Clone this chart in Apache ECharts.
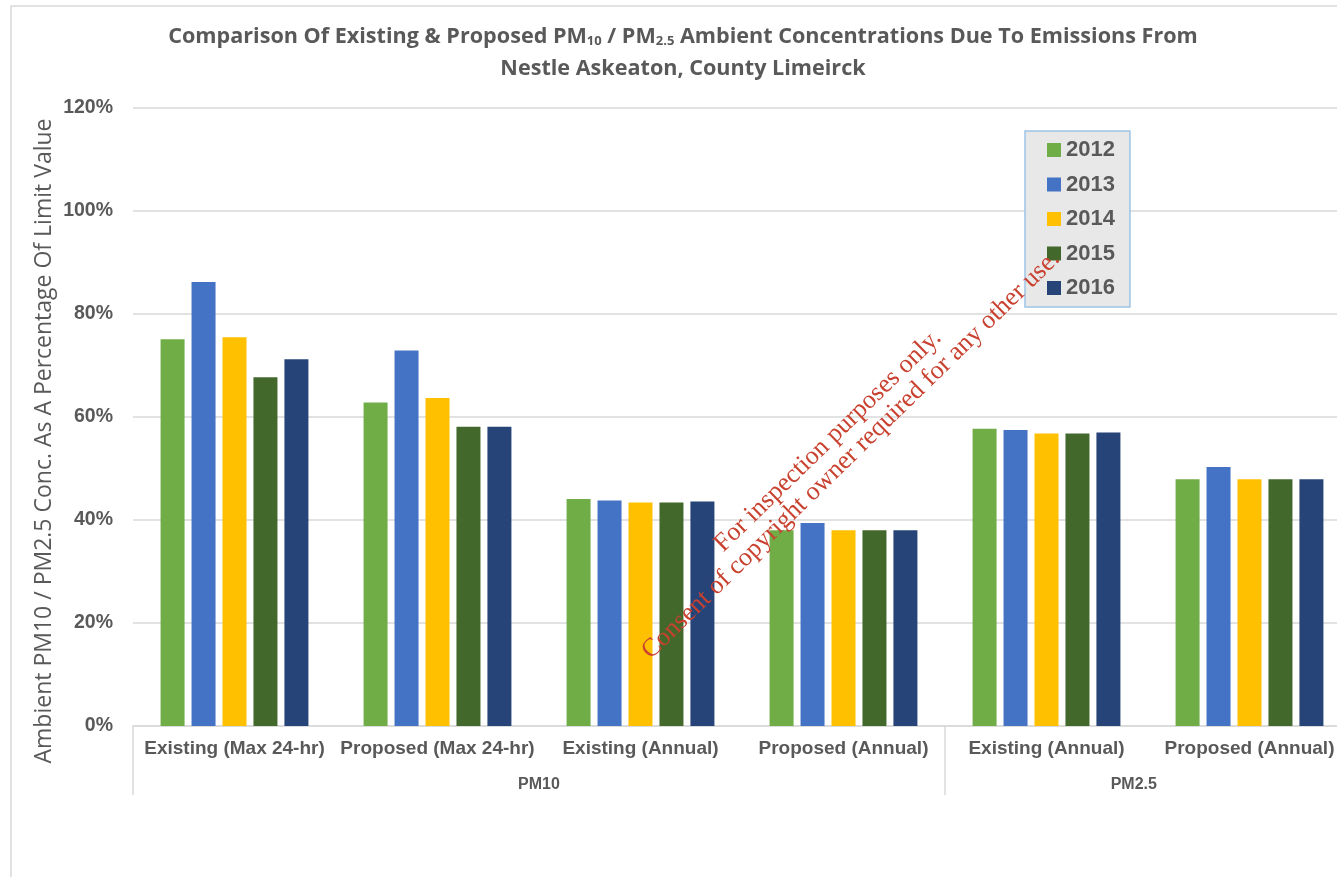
<!DOCTYPE html>
<html>
<head>
<meta charset="utf-8">
<title>PM10 / PM2.5 Ambient Concentrations</title>
<script src="https://cdn.jsdelivr.net/npm/echarts@6/dist/echarts.min.js"></script>
<style>
  html, body { margin: 0; padding: 0; background: #ffffff; width: 1337px; height: 877px; overflow: hidden; }
  /* the plot runs slightly past the right edge of the page, so the canvas is wider than the view */
  #chart { width: 1351px; height: 877px; }
</style>
</head>
<body>
<div id="chart"></div>
<script>
// Scenario categories (inner axis level) and pollutant groups (outer level)
const categories = ['Existing (Max 24-hr)', 'Proposed (Max 24-hr)', 'Existing (Annual)', 'Proposed (Annual)', 'Existing (Annual)', 'Proposed (Annual)'];
const groups = ['PM10', 'PM2.5'];
const groupSpans = [4, 2];            // number of categories in each group
const groupLabelAt = [2.0, 4.93];     // where each group's label sits along the outer level

const years = ['2012', '2013', '2014', '2015', '2016'];

// Ambient concentration as % of limit value
const y2012 = [75.1, 62.8, 44.1, 38.0, 57.7, 47.9];
const y2013 = [86.2, 72.9, 43.8, 39.4, 57.5, 50.3];
const y2014 = [75.5, 63.7, 43.4, 38.0, 56.8, 47.9];
const y2015 = [67.7, 58.1, 43.4, 38.0, 56.8, 47.9];
const y2016 = [71.2, 58.1, 43.6, 38.0, 57.0, 47.9];

const yTicks = [0, 20, 40, 60, 80, 100, 120];

const colors = ['#70AD47', '#4472C4', '#FFC000', '#43682B', '#264478'];
const seriesValues = [y2012, y2013, y2014, y2015, y2016];

const grey = '#595959';
const gridLine = '#d9d9d9';

// Boundaries between groups on the outer level
const groupEdges = [0];
groupSpans.forEach(s => groupEdges.push(groupEdges[groupEdges.length - 1] + s));

const chart = echarts.init(document.getElementById('chart'), null, { renderer: 'canvas' });

const option = {
  backgroundColor: '#ffffff',
  animation: false,
  color: colors,
  title: {
    text: '{t|Comparison Of Existing & Proposed PM}{s|10}{t| / PM}{s|2.5}{t| Ambient Concentrations Due To Emissions From}\n{t|Nestle Askeaton, County Limeirck}',
    left: 683,
    top: 21,
    padding: 0,
    textAlign: 'center',
    textStyle: {
      rich: {
        t: { fontFamily: '"Open Sans", sans-serif', fontWeight: 'bold', fontSize: 21.6, color: grey, lineHeight: 32 },
        s: { fontFamily: '"Open Sans", sans-serif', fontWeight: 'bold', fontSize: 13, color: grey, lineHeight: 32, padding: [9, 0, 0, 0] }
      }
    }
  },
  legend: {
    orient: 'vertical',
    left: 1025,
    top: 131,
    data: years,
    icon: 'rect',
    itemWidth: 14,
    itemHeight: 14,
    itemGap: 12.5,
    padding: [8, 15, 8, 22],
    backgroundColor: '#e8e8e8',
    borderColor: '#9dc3e6',
    borderWidth: 1.5,
    textStyle: { fontFamily: '"Liberation Sans", Arial, sans-serif', fontWeight: 'bold', fontSize: 22, lineHeight: 22, color: grey }
  },
  grid: { left: 133, right: 0, top: 108, bottom: 151, containLabel: false },
  xAxis: [
    {
      type: 'category',
      data: categories,
      axisLine: { show: true, lineStyle: { color: gridLine, width: 1.5 } },
      axisTick: { show: false },
      axisLabel: { interval: 0, margin: 13, fontFamily: '"Liberation Sans", Arial, sans-serif', fontWeight: 'bold', fontSize: 19, color: grey }
    },
    {
      type: 'value',
      position: 'bottom',
      min: 0,
      max: groupEdges[groupEdges.length - 1],
      axisLine: { show: false },
      splitLine: { show: false },
      axisTick: { show: true, customValues: groupEdges, length: 69, lineStyle: { color: gridLine, width: 1.5 } },
      axisLabel: {
        customValues: groupLabelAt,
        margin: 51,
        fontFamily: '"Liberation Sans", Arial, sans-serif',
        fontWeight: 'bold',
        fontSize: 16,
        color: grey,
        formatter: v => {
          for (let i = 0; i < groups.length; i++) {
            if (v >= groupEdges[i] && v < groupEdges[i + 1]) return groups[i];
          }
          return '';
        }
      }
    }
  ],
  yAxis: {
    type: 'value',
    min: yTicks[0],
    max: yTicks[yTicks.length - 1],
    interval: yTicks[1] - yTicks[0],
    axisLine: { show: false },
    axisTick: { show: false },
    splitLine: { lineStyle: { color: gridLine, width: 1.5 } },
    axisLabel: { margin: 20, fontFamily: '"Liberation Sans", Arial, sans-serif', fontWeight: 'bold', fontSize: 19.5, color: grey, formatter: '{value}%' }
  },
  series: years.map((y, i) => ({
    name: y,
    type: 'bar',
    data: seriesValues[i],
    barWidth: 24,
    barGap: '29%',
    itemStyle: { color: colors[i] }
  })),
  graphic: [
    {
      // outer chart border
      type: 'rect',
      silent: true,
      shape: { x: 11, y: 6, width: 1400, height: 900 },
      style: { fill: 'none', stroke: '#d9d9d9', lineWidth: 1.5 }
    },
    {
      // vertical axis title
      type: 'text',
      silent: true,
      x: 44,
      y: 441,
      rotation: Math.PI / 2,
      style: {
        text: 'Ambient PM10 / PM2.5 Conc. As A Percentage Of Limit Value',
        fontFamily: '"Open Sans", sans-serif',
        fontSize: 23,
        fill: grey,
        align: 'center',
        verticalAlign: 'middle'
      }
    },
    {
      type: 'text',
      silent: true,
      z: 100,
      x: 828,
      y: 441,
      rotation: 0.773,
      style: {
        text: 'For inspection purposes only.',
        fontFamily: '"Liberation Serif", "DejaVu Serif", serif',
        fontSize: 26,
        fill: '#c9412f',
        align: 'center',
        verticalAlign: 'middle'
      }
    },
    {
      type: 'text',
      silent: true,
      z: 100,
      x: 851,
      y: 455,
      rotation: 0.773,
      style: {
        text: 'Consent of copyright owner required for any other use.',
        fontFamily: '"Liberation Serif", "DejaVu Serif", serif',
        fontSize: 26,
        fill: '#c9412f',
        align: 'center',
        verticalAlign: 'middle'
      }
    }
  ]
};

chart.setOption(option);
</script>
</body>
</html>
